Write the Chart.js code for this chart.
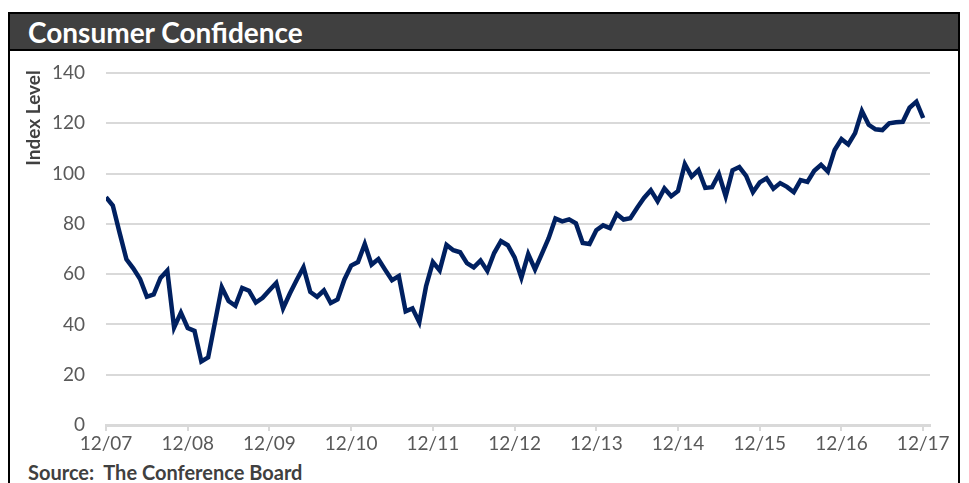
<!DOCTYPE html>
<html>
<head>
<meta charset="utf-8">
<script src="https://cdn.jsdelivr.net/npm/chart.js@4.4.1/dist/chart.umd.min.js"></script>
<style>
  html, body { margin: 0; padding: 0; background: #fff; }
  body { width: 969px; height: 483px; position: relative; overflow: hidden; font-family: Lato, "Open Sans", sans-serif; }
  .frame { position: absolute; left: 8px; top: 12px; width: 952px; height: 480px; border: 2px solid #000; box-sizing: border-box; }
  .title-bar { position: absolute; left: 8px; top: 12px; width: 952px; height: 39px; background: #404040; border: 2px solid #000; box-sizing: border-box; }
  .title-bar span { position: absolute; left: 18px; top: 1px; color: #fff; font-weight: bold; font-size: 28px; }
  .source { position: absolute; left: 28px; top: 460px; color: #404040; font-weight: bold; font-size: 20px; white-space: pre; }
  #chart { position: absolute; left: 0; top: 0; }
</style>
</head>
<body>
<div class="frame"></div>
<div class="title-bar"><span>Consumer Confidence</span></div>
<div class="source">Source:  The Conference Board</div>
<canvas id="chart" width="969" height="483"></canvas>
<script>
        // Monthly index, 12/07 through 12/17
        const confidence = [
            90.6, 87.3, 76.4, 65.9, 62.3, 58.1, 51.0, 51.9, 58.5, 61.4, 38.8, 44.7,
            38.6, 37.4, 25.3, 26.9, 40.8, 54.8, 49.3, 47.4, 54.5, 53.4, 48.7, 50.6,
            53.6, 56.5, 46.4, 52.3, 57.7, 62.7, 52.9, 51.0, 53.5, 48.5, 49.9, 57.8,
            63.4, 64.8, 72.0, 63.8, 66.0, 61.7, 57.6, 59.2, 45.2, 46.4, 40.9, 55.2,
            64.8, 61.5, 71.6, 69.5, 68.7, 64.4, 62.7, 65.4, 61.3, 68.4, 73.1, 71.5,
            66.7, 58.6, 68.0, 61.9, 68.1, 74.3, 82.1, 81.0, 81.8, 80.2, 72.4, 72.0,
            77.5, 79.4, 78.3, 83.9, 81.7, 82.2, 86.4, 90.3, 93.4, 89.0, 94.1, 91.0,
            93.1, 103.8, 98.8, 101.4, 94.3, 94.6, 99.8, 91.0, 101.3, 102.6, 99.1, 92.6,
            96.5, 98.1, 94.0, 96.2, 94.7, 92.6, 97.4, 96.7, 101.1, 103.5, 100.8, 109.4,
            113.7, 111.6, 116.1, 124.9, 119.4, 117.6, 117.3, 120.0, 120.4, 120.6, 126.2, 128.6,
            122.1
        ];

        // Axis labels
        const yearLabels = ['12/07', '12/08', '12/09', '12/10', '12/11', '12/12', '12/13', '12/14', '12/15', '12/16', '12/17'];
        const yTicks = [0, 20, 40, 60, 80, 100, 120, 140];

        const points = confidence.map((v, i) => ({ x: i, y: v }));

        // Rotated y-axis title, sitting near the top like the original
        const axisTitle = {
            id: 'axisTitle',
            afterDraw(chart) {
                const ctx = chart.ctx;
                ctx.save();
                ctx.translate(34, 118);
                ctx.rotate(-Math.PI / 2);
                ctx.font = 'bold 19px Lato';
                ctx.fillStyle = '#404040';
                ctx.textAlign = 'center';
                ctx.textBaseline = 'middle';
                ctx.fillText('Index Level', 0, 0);
                ctx.restore();
            }
        };

        new Chart(document.getElementById('chart').getContext('2d'), {
            type: 'line',
            data: {
                datasets: [{
                    data: points,
                    borderColor: '#002060',
                    borderWidth: 4.5,
                    pointRadius: 0,
                    tension: 0,
                    fill: false
                }]
            },
            options: {
                responsive: false,
                animation: false,
                layout: { padding: { top: 73, right: 39, left: 0, bottom: 0 } },
                plugins: { legend: { display: false }, tooltip: { enabled: false } },
                scales: {
                    x: {
                        type: 'linear',
                        min: 0,
                        max: 121,
                        afterBuildTicks: (scale) => {
                            scale.ticks = yearLabels.map((_, i) => ({ value: i * 12 }));
                        },
                        afterFit: (scale) => { scale.height = 58; },
                        grid: {
                            drawOnChartArea: false,
                            drawTicks: true,
                            tickLength: 6,
                            color: '#d9d9d9',
                            lineWidth: 2
                        },
                        border: { display: true, color: '#d9d9d9', width: 3 },
                        ticks: {
                            color: '#595959',
                            font: { family: 'Lato', size: 19 },
                            padding: 1,
                            maxRotation: 0,
                            autoSkip: false,
                            callback: (v) => yearLabels[v / 12]
                        }
                    },
                    y: {
                        min: 0,
                        max: 140,
                        afterBuildTicks: (scale) => {
                            scale.ticks = yTicks.map(v => ({ value: v }));
                        },
                        afterFit: (scale) => { scale.width = 106; },
                        grid: { color: '#d9d9d9', lineWidth: 2, drawTicks: false },
                        border: { display: false },
                        ticks: {
                            color: '#595959',
                            font: { family: 'Lato', size: 19 },
                            padding: 21
                        }
                    }
                }
            },
            plugins: [axisTitle]
        });
</script>
</body>
</html>
